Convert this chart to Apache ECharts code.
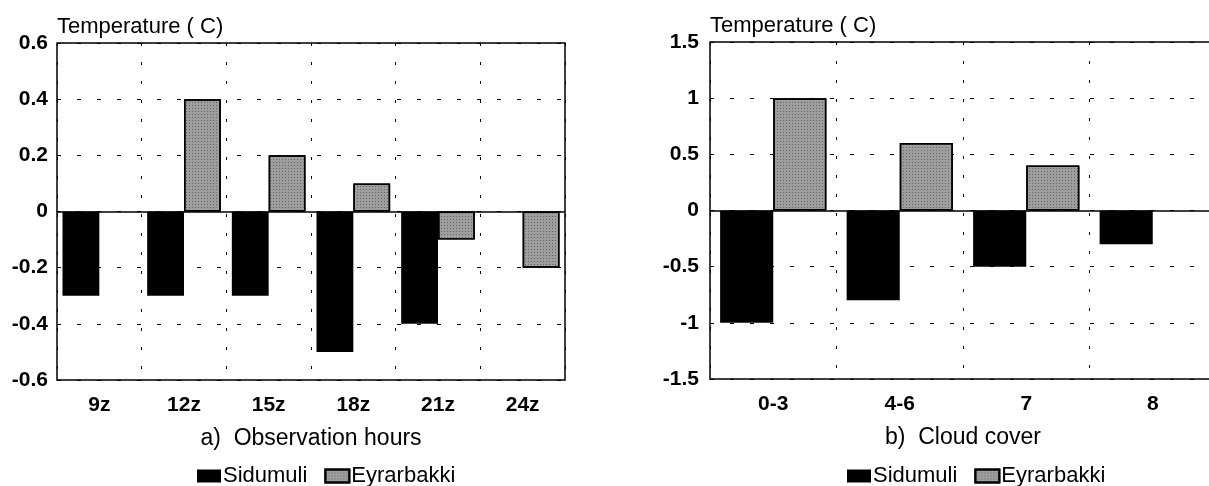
<!DOCTYPE html>
<html>
<head>
<meta charset="utf-8">
<script src="https://cdn.jsdelivr.net/npm/echarts@6/dist/echarts.min.js"></script>
<style>
  html, body { margin: 0; padding: 0; background: #fff; }
  #chart { width: 1209px; height: 486px; }
</style>
</head>
<body>
<div id="chart"></div>
<script>
// a) observation hours
const hourLabels = ['9z', '12z', '15z', '18z', '21z', '24z']
const hourSidumuli = [-0.3, -0.3, -0.3, -0.5, -0.4, null]
const hourEyrarbakki = [null, 0.4, 0.2, 0.1, -0.1, -0.2]
const hourTicks = [-0.6, -0.4, -0.2, 0, 0.2, 0.4, 0.6]

// b) cloud cover
const cloudLabels = ['0-3', '4-6', '7', '8']
const cloudSidumuli = [-1, -0.8, -0.5, -0.3]
const cloudEyrarbakki = [1, 0.6, 0.4, null]
const cloudTicks = [-1.5, -1, -0.5, 0, 0.5, 1, 1.5]

const FONT = 'Liberation Sans, Arial, Helvetica, sans-serif'
const GREY = '#9e9e9e'

const chart = echarts.init(document.getElementById('chart'))

function yAxisFor(ticks, idx, margin) {
  return {
    type: 'value',
    gridIndex: idx,
    min: ticks[0],
    max: ticks[ticks.length - 1],
    interval: ticks[1] - ticks[0],
    name: 'Temperature ( C)',
    nameLocation: 'end',
    nameGap: 5,
    nameTextStyle: { align: 'left', fontSize: 22, color: '#000', fontFamily: FONT },
    axisLine: { show: false },
    axisTick: { show: false },
    axisLabel: {
      margin: margin,
      fontSize: 21,
      fontWeight: 'bold',
      color: '#000',
      fontFamily: FONT,
      formatter: v => String(Math.round(v * 10) / 10)
    },
    splitLine: { lineStyle: { color: '#000', width: 1, type: [4, 16] } }
  }
}

function xAxisFor(labels, idx, title) {
  return {
    type: 'category',
    gridIndex: idx,
    data: labels,
    name: title,
    nameLocation: 'middle',
    nameGap: 47,
    nameTextStyle: { fontSize: 23, color: '#000', fontFamily: FONT },
    axisLine: { show: false },
    axisTick: { show: false },
    axisLabel: { margin: 15, fontSize: 21, fontWeight: 'bold', color: '#000', fontFamily: FONT },
    splitLine: { show: true, lineStyle: { color: '#000', width: 1, type: [3, 16] } }
  }
}

const greyStyle = {
  color: GREY,
  borderColor: '#000',
  borderWidth: 1.5,
  decal: {
    symbol: 'rect',
    symbolSize: 1,
    color: 'rgba(30,30,30,0.45)',
    dashArrayX: [1, 2],
    dashArrayY: [1, 2],
    rotation: 0
  }
}

function zeroLine() {
  return {
    silent: true,
    symbol: 'none',
    label: { show: false },
    lineStyle: { color: '#000', width: 1.5, type: 'solid' },
    data: [{ yAxis: 0 }],
    z: 10
  }
}

function legendAt(left) {
  return {
    data: ['Sidumuli', 'Eyrarbakki'],
    left: left, top: 460,
    itemWidth: 24, itemHeight: 13, itemGap: 17,
    icon: 'rect',
    textStyle: { fontSize: 22, color: '#000', fontFamily: FONT, padding: [0, 0, 0, -3] }
  }
}

chart.setOption({
  animation: false,
  textStyle: { fontFamily: FONT },
  grid: [
    {
      left: 57, top: 43, width: 508, height: 337, outerBoundsMode: 'none',
      show: true, borderColor: '#000', borderWidth: 1.5, z: 5
    },
    {
      left: 710, top: 42, width: 506, height: 337, outerBoundsMode: 'none',
      show: true, borderColor: '#000', borderWidth: 1.5, z: 5
    }
  ],
  legend: [legendAt(192), legendAt(842)],
  xAxis: [
    xAxisFor(hourLabels, 0, 'a)  Observation hours'),
    xAxisFor(cloudLabels, 1, 'b)  Cloud cover')
  ],
  yAxis: [
    yAxisFor(hourTicks, 0, 9),
    yAxisFor(cloudTicks, 1, 11)
  ],
  series: [
    {
      name: 'Sidumuli', type: 'bar', xAxisIndex: 0, yAxisIndex: 0,
      data: hourSidumuli, barGap: '0%', barCategoryGap: '13%',
      itemStyle: { color: '#000' },
      markLine: zeroLine()
    },
    {
      name: 'Eyrarbakki', type: 'bar', xAxisIndex: 0, yAxisIndex: 0,
      data: hourEyrarbakki, barGap: '0%', barCategoryGap: '13%',
      itemStyle: greyStyle
    },
    {
      name: 'Sidumuli', type: 'bar', xAxisIndex: 1, yAxisIndex: 1,
      data: cloudSidumuli, barGap: '0%', barCategoryGap: '16%',
      itemStyle: { color: '#000' },
      markLine: zeroLine()
    },
    {
      name: 'Eyrarbakki', type: 'bar', xAxisIndex: 1, yAxisIndex: 1,
      data: cloudEyrarbakki, barGap: '0%', barCategoryGap: '16%',
      itemStyle: greyStyle
    }
  ]
})
</script>
</body>
</html>
